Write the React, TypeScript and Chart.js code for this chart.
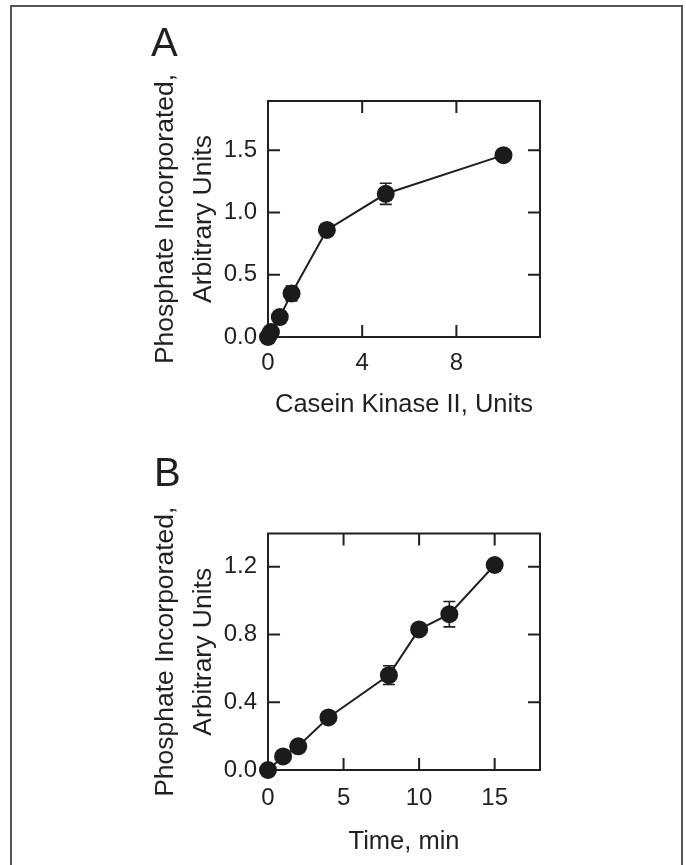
import React, { useEffect, useRef } from "react";
import { Chart, registerables } from "chart.js";

Chart.register(...registerables);

const FONT = "'Liberation Sans', Arial, Helvetica, sans-serif";
const INK = "#231f20";

// ---- Panel A: Casein Kinase II dose ----
const kinaseUnits = [0, 0.125, 0.5, 1, 2.5, 5, 10];
const phosphateA = [0, 0.04, 0.16, 0.35, 0.86, 1.15, 1.46];
const errorA = [0, 0, 0.02, 0.06, 0.02, 0.085, 0.03];
const xTicksA = [0, 4, 8];
const yTicksA = [0, 0.5, 1.0, 1.5];

// ---- Panel B: time course ----
const timeMin = [0, 1, 2, 4, 8, 10, 12, 15];
const phosphateB = [0, 0.08, 0.14, 0.31, 0.56, 0.83, 0.92, 1.21];
const errorB = [0, 0.01, 0.01, 0.02, 0.055, 0.02, 0.075, 0.03];
const xTicksB = [0, 5, 10, 15];
const yTicksB = [0, 0.4, 0.8, 1.2];

const yTitleLines = ["Phosphate Incorporated,", "Arbitrary Units"];

const framePlugin = {
  id: "frameTicks",
  beforeDatasetsDraw(chart: any, _args: any, opts: any) {
    const { ctx, chartArea, scales } = chart;
    const { left, right, top, bottom } = chartArea;
    const x = scales.x;
    const y = scales.y;
    ctx.save();
    ctx.strokeStyle = INK;
    ctx.lineWidth = 2;
    ctx.strokeRect(left, top, right - left, bottom - top);
    const L = 12;
    ctx.beginPath();
    x.ticks.forEach((t: any) => {
      const px = x.getPixelForValue(t.value);
      ctx.moveTo(px, bottom);
      ctx.lineTo(px, bottom - L);
      ctx.moveTo(px, top);
      ctx.lineTo(px, top + L);
    });
    y.ticks.forEach((t: any) => {
      const py = y.getPixelForValue(t.value);
      ctx.moveTo(left, py);
      ctx.lineTo(left + L, py);
      ctx.moveTo(right, py);
      ctx.lineTo(right - L, py);
    });
    ctx.stroke();

    const errs: number[] = opts.errors || [];
    const data = chart.data.datasets[0].data;
    ctx.lineWidth = 1.6;
    ctx.beginPath();
    data.forEach((p: any, i: number) => {
      const e = errs[i];
      if (!e) return;
      const px = x.getPixelForValue(p.x);
      const y1 = y.getPixelForValue(p.y + e);
      const y2 = y.getPixelForValue(p.y - e);
      ctx.moveTo(px, y1);
      ctx.lineTo(px, y2);
      ctx.moveTo(px - 6, y1);
      ctx.lineTo(px + 6, y1);
      ctx.moveTo(px - 6, y2);
      ctx.lineTo(px + 6, y2);
    });
    ctx.stroke();
    ctx.restore();
  },
};

type PanelSpec = {
  xs: number[];
  ys: number[];
  errs: number[];
  xTicks: number[];
  yTicks: number[];
  xMax: number;
  yMax: number;
  xTitle: string;
  padTop: number;
  xAxisH: number;
  xTickPad: number;
  xTitlePad: number;
};

function makeConfig(p: PanelSpec): any {
  return {
    type: "scatter",
    data: {
      datasets: [
        {
          data: p.xs.map((v, i) => ({ x: v, y: p.ys[i] })),
          showLine: true,
          borderColor: INK,
          borderWidth: 2,
          pointRadius: 9,
          pointBackgroundColor: "#1b1b1b",
          pointBorderColor: "#1b1b1b",
          pointBorderWidth: 0,
          clip: false,
          tension: 0,
        },
      ],
    },
    options: {
      responsive: false,
      animation: false,
      events: [],
      layout: { padding: { top: p.padTop, right: 146, left: 0, bottom: 0 } },
      plugins: {
        legend: { display: false },
        tooltip: { enabled: false },
        frameTicks: { errors: p.errs },
      },
      scales: {
        x: {
          type: "linear",
          min: 0,
          max: p.xMax,
          grid: { display: false, drawTicks: false },
          border: { display: false },
          afterBuildTicks: (s: any) => {
            s.ticks = p.xTicks.map((v) => ({ value: v }));
          },
          afterFit: (s: any) => {
            s.height = p.xAxisH;
          },
          ticks: {
            padding: p.xTickPad,
            color: INK,
            font: { family: FONT, size: 24 },
            maxRotation: 0,
            autoSkip: false,
            callback: (v: any) => String(v),
          },
          title: {
            display: true,
            text: p.xTitle,
            color: INK,
            font: { family: FONT, size: 25.5, lineHeight: 1.2 },
            padding: { top: 0, bottom: p.xTitlePad },
          },
        },
        y: {
          type: "linear",
          min: 0,
          max: p.yMax,
          grid: { display: false, drawTicks: false },
          border: { display: false },
          afterBuildTicks: (s: any) => {
            s.ticks = p.yTicks.map((v) => ({ value: v }));
          },
          afterFit: (s: any) => {
            s.width = 268;
          },
          ticks: {
            padding: 11,
            color: INK,
            font: { family: FONT, size: 24 },
            autoSkip: false,
            callback: (v: any) => Number(v).toFixed(1),
          },
          title: {
            display: true,
            text: yTitleLines,
            color: INK,
            font: { family: FONT, size: 26.5, lineHeight: 38 / 26.5 },
            padding: { top: 147, bottom: 0 },
          },
        },
      },
    },
    plugins: [framePlugin],
  };
}

function Panel({ spec, top, height }: { spec: PanelSpec; top: number; height: number }) {
  const ref = useRef<HTMLCanvasElement | null>(null);
  useEffect(() => {
    if (!ref.current) return;
    const chart = new Chart(ref.current, makeConfig(spec));
    return () => chart.destroy();
  }, []);
  return (
    <div style={{ position: "absolute", left: 0, top, width: 686, height }}>
      <canvas ref={ref} width={686} height={height} style={{ display: "block" }} />
    </div>
  );
}

const specA: PanelSpec = {
  xs: kinaseUnits,
  ys: phosphateA,
  errs: errorA,
  xTicks: xTicksA,
  yTicks: yTicksA,
  xMax: 11.55,
  yMax: 1.895,
  xTitle: "Casein Kinase II, Units",
  padTop: 101,
  xAxisH: 103,
  xTickPad: 12,
  xTitlePad: 20,
};

const specB: PanelSpec = {
  xs: timeMin,
  ys: phosphateB,
  errs: errorB,
  xTicks: xTicksB,
  yTicks: yTicksB,
  xMax: 18,
  yMax: 1.396,
  xTitle: "Time, min",
  padTop: 93.5,
  xAxisH: 95,
  xTickPad: 14,
  xTitlePad: 8,
};

const labelStyle: React.CSSProperties = {
  position: "absolute",
  fontFamily: FONT,
  fontSize: 40,
  lineHeight: "40px",
  color: INK,
};

export default function App() {
  return (
    <div
      style={{
        position: "fixed",
        left: 0,
        top: 0,
        width: 686,
        height: 865,
        background: "#fff",
        overflow: "hidden",
      }}
    >
      <div
        style={{
          position: "absolute",
          left: 10,
          top: 5,
          width: 673,
          height: 900,
          border: "2px solid #555",
          boxSizing: "border-box",
        }}
      />
      <Panel spec={specA} top={0} height={440} />
      <Panel spec={specB} top={440} height={425} />
      <div style={{ ...labelStyle, left: 151, top: 22 }}>A</div>
      <div style={{ ...labelStyle, left: 154, top: 452 }}>B</div>
    </div>
  );
}
